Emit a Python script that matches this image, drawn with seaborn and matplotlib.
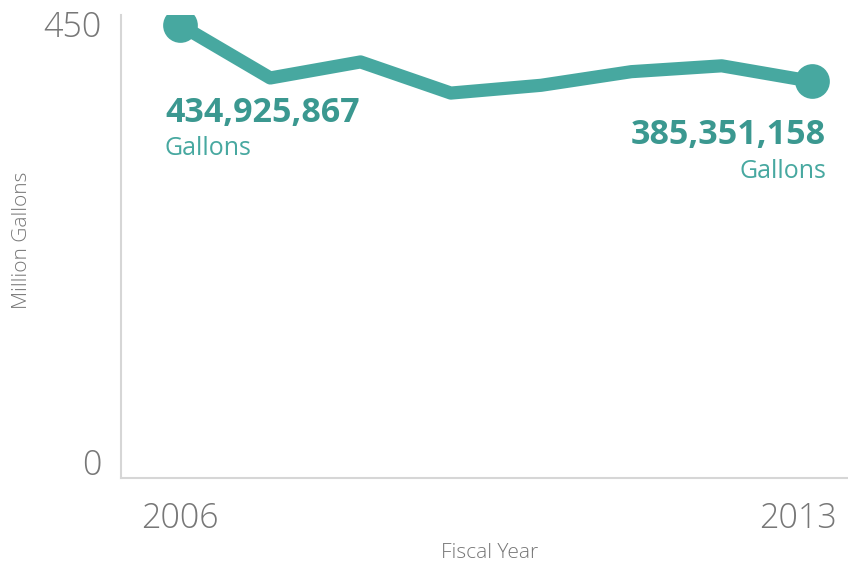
import matplotlib
matplotlib.use("Agg")
import matplotlib.pyplot as plt
import matplotlib.transforms as mtransforms
import seaborn as sns
import pandas as pd

years = [2006, 2007, 2008, 2009, 2010, 2011, 2012, 2013]
gallons_million = [449, 394.5, 411, 379, 387, 401, 407, 391]
y_ticks = [0, 450]
x_ticks = [2006, 2013]
start_label = "434,925,867"
end_label = "385,351,158"
unit_label = "Gallons"

TEAL = "#47a8a0"
TEAL_TEXT = "#3b9890"
GRAY = "#777777"

sns.set_theme(style="white")
plt.rcParams["font.family"] = ["Open Sans", "Lato", "DejaVu Sans"]

df = pd.DataFrame({"year": years, "value": gallons_million})

fig = plt.figure(figsize=(8.48, 5.66), dpi=100)
ax = fig.add_axes([121 / 848, 88 / 566, (848 - 121) / 848, (478 - 15) / 566])

sns.lineplot(data=df, x="year", y="value", ax=ax, color=TEAL, linewidth=9.5,
             solid_joinstyle="round", solid_capstyle="round")
ends = df.iloc[[0, -1]]
ax.plot(ends["year"], ends["value"], "o", color=TEAL, markersize=25,
        markeredgewidth=0)

ax.set_xlim(2005.347, 2013.399)
ax.set_ylim(-16.4, 459.2)
ax.set_xticks(x_ticks)
ax.set_xticklabels([str(t) for t in x_ticks])
ax.set_yticks(y_ticks)
ax.set_yticklabels([str(t) for t in y_ticks])
ax.tick_params(axis="both", length=0, labelsize=24.5, labelcolor=GRAY)
for lbl in ax.get_xticklabels() + ax.get_yticklabels():
    lbl.set_fontweight("light")
ax.tick_params(axis="y", pad=14)
ax.tick_params(axis="x", pad=17)

# shift the 2013 label slightly left like the reference
lbls = ax.get_xticklabels()
offset = mtransforms.ScaledTranslation(-14 / 100, 0, fig.dpi_scale_trans)
lbls[-1].set_transform(lbls[-1].get_transform() + offset)

for side in ["top", "right"]:
    ax.spines[side].set_visible(False)
for side in ["left", "bottom"]:
    ax.spines[side].set_color("#d6d6d6")
    ax.spines[side].set_linewidth(1.5)

ax.set_xlabel("Fiscal Year", fontsize=15, color=GRAY, fontweight="light")
ax.set_ylabel("Million Gallons", fontsize=15, color=GRAY, fontweight="light")
ax.xaxis.set_label_coords(0.5076, -0.162)
ax.yaxis.set_label_coords(-0.136, 0.514)
ax.xaxis.label.set_va("center")
ax.yaxis.label.set_va("center")

# annotations
ax.annotate(start_label, xy=(years[0], gallons_million[0]), xytext=(-15, -97),
            textcoords="offset pixels", ha="left", va="baseline",
            fontsize=24.5, fontweight="bold", color=TEAL_TEXT)
ax.annotate(unit_label, xy=(years[0], gallons_million[0]), xytext=(-15, -130),
            textcoords="offset pixels", ha="left", va="baseline",
            fontsize=18, color=TEAL)
ax.annotate(end_label, xy=(years[-1], gallons_million[-1]), xytext=(14, -63),
            textcoords="offset pixels", ha="right", va="baseline",
            fontsize=24.5, fontweight="bold", color=TEAL_TEXT)
ax.annotate(unit_label, xy=(years[-1], gallons_million[-1]), xytext=(14, -97),
            textcoords="offset pixels", ha="right", va="baseline",
            fontsize=18, color=TEAL)

fig.savefig("out.png", dpi=100, facecolor="white")
